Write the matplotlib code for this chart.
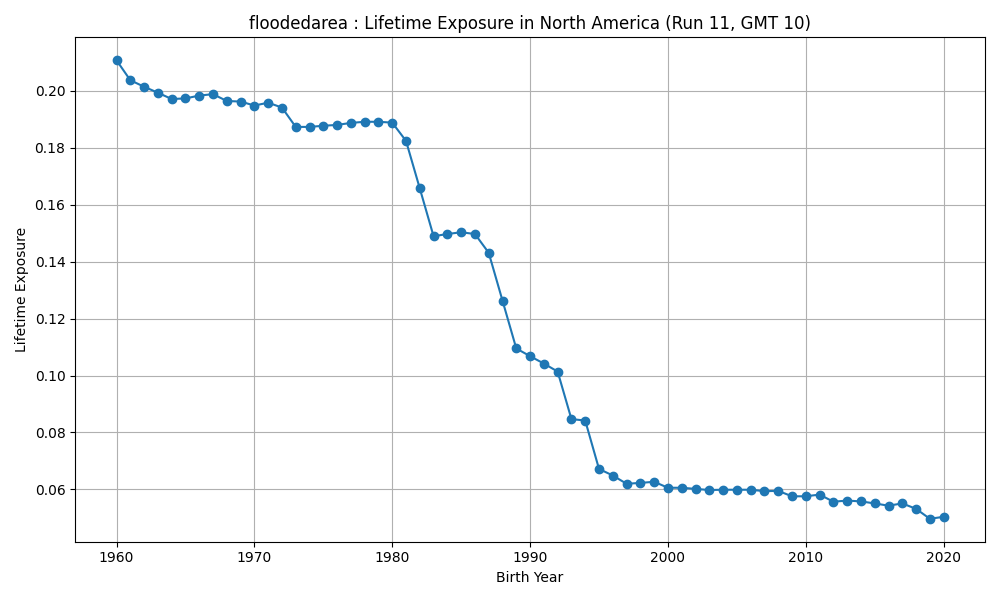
import matplotlib
matplotlib.use("Agg")
import matplotlib.pyplot as plt

birth_years = list(range(1960, 2021))
exposure = [
    0.2107, 0.2037, 0.2014, 0.1993, 0.1971, 0.1973, 0.1983, 0.1988, 0.1964, 0.1962,
    0.1948, 0.1958, 0.1941, 0.1873, 0.1873, 0.1877, 0.1880, 0.1887, 0.1891, 0.1891,
    0.1888, 0.1824, 0.1657, 0.1489, 0.1497, 0.1503, 0.1497, 0.1431, 0.1263, 0.1095,
    0.1068, 0.1042, 0.1014, 0.0847, 0.0842, 0.0672, 0.0649, 0.0620, 0.0623, 0.0627,
    0.0606, 0.0606, 0.0602, 0.0598, 0.0599, 0.0599, 0.0599, 0.0594, 0.0595, 0.0576,
    0.0576, 0.0582, 0.0557, 0.0561, 0.0558, 0.0551, 0.0543, 0.0551, 0.0532, 0.0497,
    0.0504,
]

plt.figure(figsize=(10, 6))
plt.plot(birth_years, exposure, marker="o")
plt.title("floodedarea : Lifetime Exposure in North America (Run 11, GMT 10)")
plt.xlabel("Birth Year")
plt.ylabel("Lifetime Exposure")
plt.grid(True)
plt.tight_layout()
plt.savefig("out.png", dpi=100)
